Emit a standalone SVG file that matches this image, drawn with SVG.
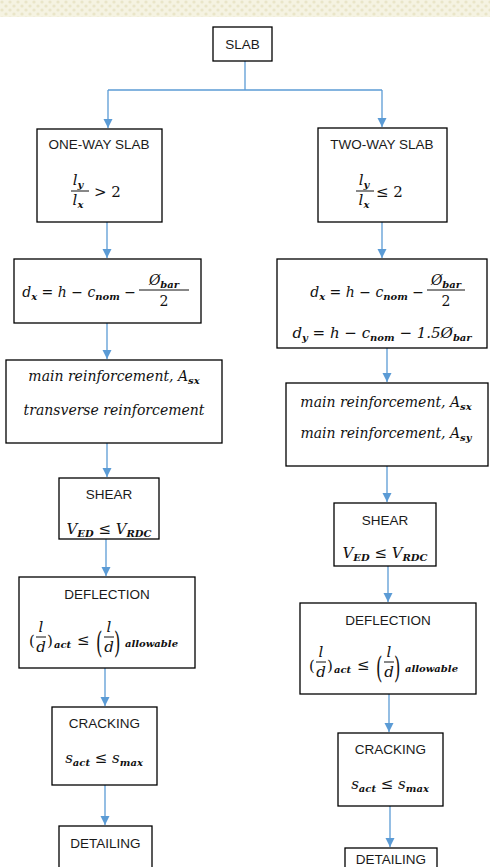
<svg xmlns="http://www.w3.org/2000/svg" width="490" height="867" viewBox="0 0 490 867">
<defs>
<pattern id="band" width="8" height="8" patternUnits="userSpaceOnUse">
<rect width="8" height="8" fill="#f5f3e2"/>
<circle cx="2" cy="2" r="1.6" fill="#e9e5c8"/>
<circle cx="6" cy="6" r="1.6" fill="#e9e5c8"/>
</pattern>
<marker id="arr" markerUnits="userSpaceOnUse" markerWidth="10" markerHeight="10" refX="9" refY="5" orient="auto" viewBox="0 0 10 10">
<path d="M0,0.5 L9,5 L0,9.5 Z" fill="#5b9bd5"/>
</marker>
<style>
.box{fill:#fff;stroke:#000;stroke-width:1.3}
.h{font-family:"Liberation Sans","Open Sans",sans-serif;font-size:13.5px;fill:#1a1a1a;text-anchor:middle}
.m{font-family:"DejaVu Serif","Liberation Serif",serif;font-style:italic;font-size:15px;fill:#111}
.mc{text-anchor:middle}
.me{text-anchor:end}
.s{font-size:10px;font-weight:bold}
.r{font-size:14px}
.d{font-size:14px}
.up{font-style:normal}
.big{font-size:30px;font-style:normal}
.bar{stroke:#111;stroke-width:1}
.c{stroke:#5b9bd5;stroke-width:1.3;fill:none}
</style>
</defs>
<rect x="0" y="0" width="490" height="17" fill="url(#band)"/>

<g id="connectors">
<line class="c" x1="245" y1="61" x2="245" y2="90"/>
<line class="c" x1="108" y1="90" x2="382" y2="90"/>
<line class="c" x1="108" y1="90" x2="108" y2="128" marker-end="url(#arr)"/>
<line class="c" x1="382" y1="90" x2="382" y2="127" marker-end="url(#arr)"/>
<line class="c" x1="107" y1="222" x2="107" y2="258" marker-end="url(#arr)"/>
<line class="c" x1="382" y1="222" x2="382" y2="258" marker-end="url(#arr)"/>
<line class="c" x1="107" y1="323" x2="107" y2="359" marker-end="url(#arr)"/>
<line class="c" x1="387" y1="348" x2="387" y2="382" marker-end="url(#arr)"/>
<line class="c" x1="107" y1="443" x2="107" y2="477" marker-end="url(#arr)"/>
<line class="c" x1="387" y1="466" x2="387" y2="502" marker-end="url(#arr)"/>
<line class="c" x1="106" y1="539" x2="106" y2="576" marker-end="url(#arr)"/>
<line class="c" x1="388" y1="566" x2="388" y2="602" marker-end="url(#arr)"/>
<line class="c" x1="105" y1="668" x2="105" y2="706" marker-end="url(#arr)"/>
<line class="c" x1="389" y1="694" x2="389" y2="732" marker-end="url(#arr)"/>
<line class="c" x1="105" y1="785" x2="105" y2="825" marker-end="url(#arr)"/>
<line class="c" x1="390" y1="806" x2="390" y2="847" marker-end="url(#arr)"/>
</g>

<g id="slab">
<rect class="box" x="213" y="27" width="59" height="34"/>
<text class="h" x="242.5" y="49">SLAB</text>
</g>

<g id="one-way">
<rect class="box" x="37" y="129" width="125" height="93"/>
<text class="h" x="99" y="149">ONE-WAY SLAB</text>
<text class="m mc" x="78" y="185">l<tspan class="s" dy="3">y</tspan></text>
<line class="bar" x1="71" y1="191" x2="89" y2="191"/>
<text class="m mc" x="78" y="205">l<tspan class="s" dy="3">x</tspan></text>
<text class="m up" x="94" y="197">&gt; 2</text>
</g>

<g id="two-way">
<rect class="box" x="318" y="128" width="129" height="94"/>
<text class="h" x="382" y="149">TWO-WAY SLAB</text>
<text class="m mc" x="364" y="185">l<tspan class="s" dy="3">y</tspan></text>
<line class="bar" x1="356" y1="191" x2="374" y2="191"/>
<text class="m mc" x="364" y="205">l<tspan class="s" dy="3">x</tspan></text>
<text class="m up" x="376" y="197">≤ 2</text>
</g>

<g id="depth-left">
<rect class="box" x="14" y="259" width="187" height="64"/>
<text class="m me d" x="136" y="297">d<tspan class="s" dy="3">x</tspan><tspan dy="-3"> = h − c</tspan><tspan class="s" dy="3">nom</tspan><tspan dy="-3"> −</tspan></text>
<text class="m mc d" x="164" y="285">Ø<tspan class="s" dy="3">bar</tspan></text>
<line class="bar" x1="139" y1="290" x2="189" y2="290"/>
<text class="m mc up d" x="164" y="306">2</text>
</g>

<g id="depth-right">
<rect class="box" x="277" y="259" width="210" height="89"/>
<text class="m me d" x="424" y="297">d<tspan class="s" dy="3">x</tspan><tspan dy="-3"> = h − c</tspan><tspan class="s" dy="3">nom</tspan><tspan dy="-3"> −</tspan></text>
<text class="m mc d" x="446" y="285">Ø<tspan class="s" dy="3">bar</tspan></text>
<line class="bar" x1="427" y1="290" x2="465" y2="290"/>
<text class="m mc up d" x="446" y="306">2</text>
<text class="m mc" x="382" y="338">d<tspan class="s" dy="3">y</tspan><tspan dy="-3"> = h − c</tspan><tspan class="s" dy="3">nom</tspan><tspan dy="-3"> − 1.5Ø</tspan><tspan class="s" dy="3">bar</tspan></text>
</g>

<g id="reinf-left">
<rect class="box" x="6" y="360" width="216" height="83"/>
<text class="m mc r" x="114" y="381">main reinforcement, A<tspan class="s" dy="3">sx</tspan></text>
<text class="m mc r" x="114" y="415">transverse reinforcement</text>
</g>

<g id="reinf-right">
<rect class="box" x="286" y="383" width="202" height="83"/>
<text class="m mc r" x="386" y="407">main reinforcement, A<tspan class="s" dy="3">sx</tspan></text>
<text class="m mc r" x="386" y="438">main reinforcement, A<tspan class="s" dy="3">sy</tspan></text>
</g>

<g id="shear-left">
<rect class="box" x="59" y="478" width="100" height="61"/>
<text class="h" x="109" y="499">SHEAR</text>
<text class="m mc" x="109" y="534">V<tspan class="s" dy="3">ED</tspan><tspan dy="-3"> ≤ V</tspan><tspan class="s" dy="3">RDC</tspan></text>
</g>

<g id="shear-right">
<rect class="box" x="334" y="503" width="102" height="63"/>
<text class="h" x="385" y="525">SHEAR</text>
<text class="m mc" x="385" y="558">V<tspan class="s" dy="3">ED</tspan><tspan dy="-3"> ≤ V</tspan><tspan class="s" dy="3">RDC</tspan></text>
</g>

<g id="deflection-left">
<rect class="box" x="19" y="577" width="176" height="91"/>
<text class="h" x="107" y="599">DEFLECTION</text>
<text class="m up" x="29" y="646">(</text>
<text class="m mc" x="41" y="632">l</text>
<line class="bar" x1="36" y1="637" x2="46" y2="637"/>
<text class="m mc" x="41" y="652">d</text>
<text class="m up" x="47" y="646">)</text>
<text class="m s" x="54" y="648">act</text>
<text class="m up" x="77" y="645">≤</text>
<text class="m big" x="96" y="653" transform="translate(96,653) scale(0.55,1) translate(-96,-653)">(</text>
<text class="m mc" x="109" y="632">l</text>
<line class="bar" x1="104" y1="637" x2="114" y2="637"/>
<text class="m mc" x="109" y="652">d</text>
<text class="m big" x="114" y="653" transform="translate(114,653) scale(0.55,1) translate(-114,-653)">)</text>
<text class="m s" x="125" y="647">allowable</text>
</g>

<g id="deflection-right">
<rect class="box" x="300" y="603" width="176" height="91"/>
<text class="h" x="388" y="625">DEFLECTION</text>
<g transform="translate(280,25)">
<text class="m up" x="29" y="646">(</text>
<text class="m mc" x="41" y="632">l</text>
<line class="bar" x1="36" y1="637" x2="46" y2="637"/>
<text class="m mc" x="41" y="652">d</text>
<text class="m up" x="47" y="646">)</text>
<text class="m s" x="54" y="648">act</text>
<text class="m up" x="77" y="645">≤</text>
<text class="m big" x="96" y="653" transform="translate(96,653) scale(0.55,1) translate(-96,-653)">(</text>
<text class="m mc" x="109" y="632">l</text>
<line class="bar" x1="104" y1="637" x2="114" y2="637"/>
<text class="m mc" x="109" y="652">d</text>
<text class="m big" x="114" y="653" transform="translate(114,653) scale(0.55,1) translate(-114,-653)">)</text>
<text class="m s" x="125" y="647">allowable</text>
</g>
</g>

<g id="cracking-left">
<rect class="box" x="52" y="707" width="105" height="78"/>
<text class="h" x="104.5" y="728">CRACKING</text>
<text class="m mc" x="104" y="763">s<tspan class="s" dy="3">act</tspan><tspan dy="-3"> ≤ s</tspan><tspan class="s" dy="3">max</tspan></text>
</g>

<g id="cracking-right">
<rect class="box" x="338" y="733" width="105" height="73"/>
<text class="h" x="390.5" y="754">CRACKING</text>
<text class="m mc" x="390" y="789">s<tspan class="s" dy="3">act</tspan><tspan dy="-3"> ≤ s</tspan><tspan class="s" dy="3">max</tspan></text>
</g>

<g id="detailing-left">
<rect class="box" x="59" y="826" width="93" height="50"/>
<text class="h" x="105.5" y="848">DETAILING</text>
</g>

<g id="detailing-right">
<rect class="box" x="345" y="848" width="92" height="40"/>
<text class="h" x="391" y="864">DETAILING</text>
</g>
</svg>
